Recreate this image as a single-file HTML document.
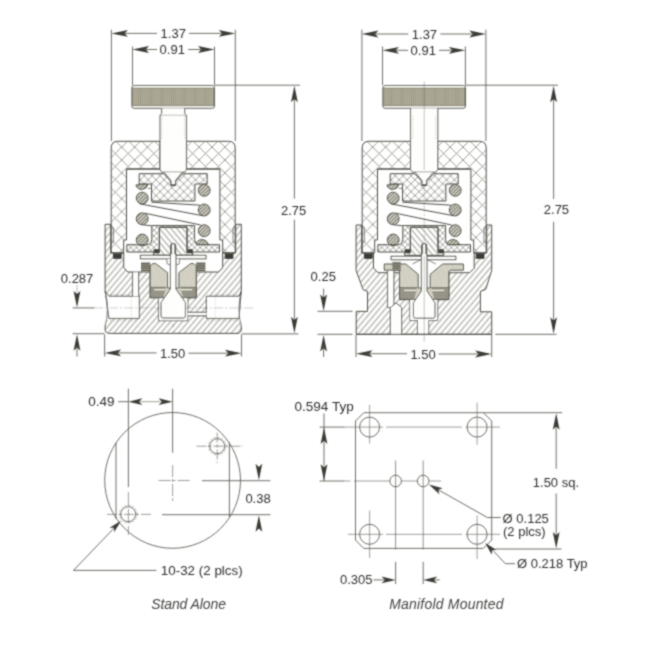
<!DOCTYPE html>
<html lang="en"><head><meta charset="utf-8"><title>Regulator dimensions</title>
<style>html,body{margin:0;padding:0;background:#fff}svg{display:block}text{font-family:"Liberation Sans",sans-serif}</style>
</head><body>
<svg width="647" height="650" viewBox="0 0 647 650">
<defs>
<pattern id="xh" width="12.9" height="12.9" patternUnits="userSpaceOnUse" patternTransform="translate(0.1,5.2)"><path d="M0,0 L12.9,12.9 M12.9,0 L0,12.9" stroke="#93938a" stroke-width="0.9" fill="none"/></pattern>
<pattern id="xm" width="7.9" height="7.9" patternUnits="userSpaceOnUse" patternTransform="translate(2.6,2)"><path d="M0,0 L7.9,7.9 M7.9,0 L0,7.9" stroke="#93938a" stroke-width="0.85" fill="none"/></pattern>
<pattern id="xf" width="5.8" height="5.8" patternUnits="userSpaceOnUse" patternTransform="translate(1,1)"><path d="M0,0 L5.8,5.8 M5.8,0 L0,5.8" stroke="#93938a" stroke-width="0.8" fill="none"/></pattern>
<pattern id="dh" width="4.5" height="10" patternUnits="userSpaceOnUse" patternTransform="translate(1.6,0) rotate(40)"><line x1="1" y1="0" x2="1" y2="10" stroke="#93938a" stroke-width="0.95"/></pattern>
<pattern id="dh2" width="4.4" height="10" patternUnits="userSpaceOnUse" patternTransform="rotate(-40)"><line x1="1" y1="0" x2="1" y2="10" stroke="#93938a" stroke-width="0.95"/></pattern>
<pattern id="ch" width="2.6" height="10" patternUnits="userSpaceOnUse" patternTransform="rotate(45)"><rect width="2.6" height="10" fill="#dcdacd"/><line x1="0.7" y1="0" x2="0.7" y2="10" stroke="#5e5e56" stroke-width="0.95"/></pattern>
<pattern id="dt" width="1.9" height="10" patternUnits="userSpaceOnUse" patternTransform="rotate(-42)"><rect width="1.9" height="10" fill="#e3e1d5"/><line x1="0.5" y1="0" x2="0.5" y2="10" stroke="#b3b1a3" stroke-width="0.7"/></pattern>
<pattern id="kn" width="2.2" height="4" patternUnits="userSpaceOnUse"><rect width="2.2" height="4" fill="#b1ad9a"/><rect width="0.8" height="4" fill="#999582"/></pattern>
<pattern id="sp" width="10" height="1.8" patternUnits="userSpaceOnUse"><rect width="10" height="1.8" fill="#a6a392"/><rect width="10" height="0.9" fill="#4e4e48"/></pattern>
<filter id="soft" x="0" y="0" width="647" height="650" filterUnits="userSpaceOnUse"><feConvolveMatrix order="3" kernelMatrix="1 2 1 2 8 2 1 2 1" divisor="20" edgeMode="duplicate" preserveAlpha="false"/></filter>
</defs>
<rect width="647" height="650" fill="#ffffff"/>
<g filter="url(#soft)">
<g transform="translate(173.2,0)">
<path d="M0,333.4 L-63.8,333.4 Q-68.1,333.4 -68.1,329 L-68.1,224.3 L-62.5,224.3 L-62.5,253 L-59.8,253 L-59.8,258.4 L-52,258.4 L-52,253 L-49.5,253 L-49.5,267.5 L-45.5,272 L-23,272 L-23,297.7 L-14.6,297.7 L-14.6,320.7 L0,320.7 L0,320.7 L14.6,320.7 L14.6,297.7 L23,297.7 L23,272 L45.5,272 L49.5,267.5 L49.5,253 L52,253 L52,258.4 L59.8,258.4 L59.8,253 L62.5,253 L62.5,224.3 L68.1,224.3 L68.1,329 Q68.1,333.4 63.8,333.4 Z" fill="url(#dh)" stroke="#4e4e46" stroke-width="1.0" stroke-linejoin="round" />
<rect x="-14.1" y="298" width="28.2" height="22.3" fill="#fefefc"/>
<rect x="-1" y="321.2" width="2" height="11.6" fill="url(#dh)"/>
<path d="M-69.2,291.3 L-68.1,291.3 L-64.2,296.3 L-33.9,296.3 L-33.9,318.4 L-64.2,318.4 L-66.8,322 L-68.3,326 L-69.2,326 Z" fill="#ffffff"/>
<path d="M-68.1,291.3 L-64.2,296.3 L-33.9,296.3 L-33.9,318.4 L-64.2,318.4 Z" fill="none" stroke="#4e4e46" stroke-width="1.0" stroke-linejoin="round" />
<path d="M-68.1,291.3 Q-65.6,300 -65.8,309 Q-65.8,319 -68.2,326" fill="none" stroke="#4e4e46" stroke-width="0.8" stroke-linejoin="round" />
<line x1="-63.2" y1="294.3" x2="-39.9" y2="294.3" stroke="#4e4e46" stroke-width="0.5" stroke-dasharray="2 1.5" stroke-opacity="0.55"/>
<line x1="-63.2" y1="320.7" x2="-34.9" y2="320.7" stroke="#4e4e46" stroke-width="0.5" stroke-dasharray="2 1.5" stroke-opacity="0.55"/>
<line x1="-42.0" y1="296.3" x2="-42.0" y2="318.4" stroke="#4e4e46" stroke-width="0.5" stroke-dasharray="2 1.5" stroke-opacity="0.4"/>
<path d="M69.2,291.3 L68.1,291.3 L65.8,296.3 L33.2,296.3 L33.2,318.4 L65.8,318.4 L66.8,322 L68.3,326 L69.2,326 Z" fill="#ffffff"/>
<path d="M68.1,291.3 L65.8,296.3 L33.2,296.3 L33.2,318.4 L65.8,318.4 Z" fill="none" stroke="#4e4e46" stroke-width="1.0" stroke-linejoin="round" />
<path d="M68.1,291.3 Q65.6,300 65.8,309 Q65.8,319 68.2,326" fill="none" stroke="#4e4e46" stroke-width="0.8" stroke-linejoin="round" />
<line x1="64.8" y1="294.3" x2="39.2" y2="294.3" stroke="#4e4e46" stroke-width="0.5" stroke-dasharray="2 1.5" stroke-opacity="0.55"/>
<line x1="64.8" y1="320.7" x2="34.2" y2="320.7" stroke="#4e4e46" stroke-width="0.5" stroke-dasharray="2 1.5" stroke-opacity="0.55"/>
<line x1="42.0" y1="296.3" x2="42.0" y2="318.4" stroke="#4e4e46" stroke-width="0.5" stroke-dasharray="2 1.5" stroke-opacity="0.4"/>
<rect x="-40.6" y="272.4" width="6" height="24" fill="#fefefc"/>
<line x1="-40.6" y1="272.0" x2="-40.6" y2="296.3" stroke="#4e4e46" stroke-width="1.0"/>
<line x1="-34.6" y1="272.0" x2="-34.6" y2="296.3" stroke="#4e4e46" stroke-width="1.0"/>
<rect x="14.4" y="312.3" width="19" height="3.5" fill="#fefefc"/>
<line x1="14.6" y1="312.3" x2="33.2" y2="312.3" stroke="#4e4e46" stroke-width="1.0"/>
<line x1="14.6" y1="315.8" x2="33.2" y2="315.8" stroke="#4e4e46" stroke-width="1.0"/>
<line x1="-79.0" y1="307.9" x2="82.0" y2="307.9" stroke="#4e4e46" stroke-width="0.5" stroke-dasharray="9 2 2 2" stroke-opacity="0.55"/>
<rect x="-32.8" y="255.3" width="65.6" height="3.5" rx="0" fill="#fefefc" stroke="#4e4e46" stroke-width="1.0"/>
<path d="M-6.2,258.8 L-6.2,263 Q-6.2,264.4 -4.6,264.4 L4.6,264.4 Q6.2,264.4 6.2,263 L6.2,258.8" fill="#fefefc" stroke="#4e4e46" stroke-width="0.8" stroke-linejoin="round" />
<rect x="-32.2" y="262.3" width="9.2" height="9.2" fill="url(#sp)"/>
<rect x="23" y="262.3" width="9.2" height="9.2" fill="url(#sp)"/>
<path d="M-23,265.7 L-20.2,263.6 L-17.5,263.6 L-5.7,272.7 L-5.7,288 L5.7,288 L5.7,272.7 L17.5,263.6 L20.2,263.6 L23,265.7 L23,297.7 L-23,297.7 Z" fill="url(#dt)" stroke="#4e4e46" stroke-width="1.0" stroke-linejoin="round" />
<path d="M-23,287.3 L-7,287.3 L-10,297.7 L-23,297.7 Z M23,287.3 L7,287.3 L10,297.7 L23,297.7 Z" fill="#6f6d62" fill-opacity="0.6"/>
<path d="M-19,289.6 L-7.8,289.6 M19,289.6 L7.8,289.6" stroke="#eeecdf" stroke-width="1.2"/>
<line x1="-23.0" y1="287.3" x2="-7.0" y2="287.3" stroke="#4e4e46" stroke-width="0.6"/>
<line x1="23.0" y1="287.3" x2="7.0" y2="287.3" stroke="#4e4e46" stroke-width="0.6"/>
</g>
<g transform="translate(173.2,0)">
<path d="M-49.5,252.7 L-62,252.7 L-62,148 Q-62,141.3 -55.3,141.3 L-13.2,141.3 L-13.2,169 L-46.7,169 L-46.7,240 L-49.5,240 Z" fill="url(#xh)" stroke="#4e4e46" stroke-width="1.0" stroke-linejoin="round" />
<path d="M49.5,252.7 L62,252.7 L62,148 Q62,141.3 55.3,141.3 L13.2,141.3 L13.2,169 L46.7,169 L46.7,240 L49.5,240 Z" fill="url(#xh)" stroke="#4e4e46" stroke-width="1.0" stroke-linejoin="round" />
<line x1="-46.7" y1="169.0" x2="46.7" y2="169.0" stroke="#4e4e46" stroke-width="1.0"/>
<path d="M-62,226 L-59.8,227.5 L-59.8,242 L-62,243.5" fill="none" stroke="#4e4e46" stroke-width="0.7" stroke-linejoin="round" />
<path d="M62,226 L59.8,227.5 L59.8,242 L62,243.5" fill="none" stroke="#4e4e46" stroke-width="0.7" stroke-linejoin="round" />
<rect x="-41.3" y="85.5" width="82.6" height="22.8" rx="2.2" fill="#fdfdf8" stroke="#4e4e46" stroke-width="1.0"/>
<rect x="-40.6" y="88.1" width="81.2" height="17.6" rx="0" fill="url(#kn)" stroke="#7e7a68" stroke-width="0.9"/>
<path d="M-11.5,108.3 L-11.5,113.6 L-13.2,115.2 L-13.2,169.5 L-11.6,172.2 L11.6,172.2 L13.2,169.5 L13.2,115.2 L11.5,113.6 L11.5,108.3" fill="#fefefc" stroke="#4e4e46" stroke-width="1.0" stroke-linejoin="round" />
<line x1="-13.2" y1="115.2" x2="13.2" y2="115.2" stroke="#4e4e46" stroke-width="0.6" stroke-opacity="0.6"/>
<line x1="-11.3" y1="116.0" x2="-11.3" y2="140.0" stroke="#4e4e46" stroke-width="0.5" stroke-dasharray="1.5 1.5" stroke-opacity="0.5"/>
<line x1="11.3" y1="116.0" x2="11.3" y2="140.0" stroke="#4e4e46" stroke-width="0.5" stroke-dasharray="1.5 1.5" stroke-opacity="0.5"/>
<path d="M-34,173.7 L-9.5,173.7 L-2.3,181.5 L-2.3,185.6 L2.3,185.6 L2.3,181.5 L9.5,173.7 L34,173.7 L34,184 L21.7,184 L21.7,201 L-21.7,201 L-21.7,184 L-34,184 Z" fill="url(#xm)" stroke="#4e4e46" stroke-width="1.0" stroke-linejoin="round" />
<path d="M-9,172.2 L-2.2,180.5 L-2.2,184.6 L2.2,184.6 L2.2,180.5 L9,172.2" fill="#fefefc" stroke="#4e4e46" stroke-width="1.0" stroke-linejoin="round" />
<line x1="-21.7" y1="202.2" x2="27.0" y2="205.2" stroke="#4e4e46" stroke-width="1.0"/>
<line x1="-33.5" y1="203.8" x2="30.0" y2="215.8" stroke="#4e4e46" stroke-width="1.0"/>
<line x1="-28.5" y1="213.2" x2="27.5" y2="225.0" stroke="#4e4e46" stroke-width="1.0"/>
<line x1="-31.0" y1="224.7" x2="-21.7" y2="225.8" stroke="#4e4e46" stroke-width="1.0"/>
<path d="M-37.3,185 Q-36,189.6 -31,189.4 Q-26.5,189 -25.4,184.6 L-29,184.2 Z" fill="url(#ch)" stroke="#4e4e46" stroke-width="1.0" stroke-linejoin="round" />
<line x1="-25.4" y1="188.4" x2="-21.7" y2="188.4" stroke="#4e4e46" stroke-width="0.7"/>
<circle cx="-31.0" cy="198.1" r="5.9" fill="url(#ch)" stroke="#4e4e46" stroke-width="1.0"/>
<circle cx="-31.0" cy="218.8" r="5.9" fill="url(#ch)" stroke="#4e4e46" stroke-width="1.0"/>
<circle cx="-31.0" cy="240.0" r="5.9" fill="url(#ch)" stroke="#4e4e46" stroke-width="1.0"/>
<circle cx="31.0" cy="190.3" r="5.9" fill="url(#ch)" stroke="#4e4e46" stroke-width="1.0"/>
<circle cx="31.0" cy="210.0" r="5.9" fill="url(#ch)" stroke="#4e4e46" stroke-width="1.0"/>
<circle cx="31.0" cy="230.7" r="5.9" fill="url(#ch)" stroke="#4e4e46" stroke-width="1.0"/>
<path d="M22.8,244.6 Q24,239.6 29,239.6 Q34,240 35.2,244.6 Z" fill="url(#ch)" stroke="#4e4e46" stroke-width="1.0" stroke-linejoin="round" />
<path d="M-21.4,225.6 L21.4,225.6 L21.4,239.5 Q21.6,244 25,244.7 L46.3,244.7 L46.3,252 L13.8,252 L13.8,227.3 L-13.8,227.3 L-13.8,252 L-46.3,252 L-46.3,244.7 L-25,244.7 Q-21.6,244 -21.4,239.5 Z" fill="url(#xf)" stroke="#4e4e46" stroke-width="1.0" stroke-linejoin="round" />
<path d="M-13.8,227.3 L13.8,227.3 L13.8,252.8 L19.6,252.8 L19.6,255.3 L2.5,255.3 L2.5,245 Q2.5,243.6 0,243.6 Q-2.5,243.6 -2.5,245 L-2.5,255.3 L-19.6,255.3 L-19.6,252.8 L-13.8,252.8 Z" fill="url(#dh2)" stroke="#4e4e46" stroke-width="1.0" stroke-linejoin="round" />
<rect x="-19.6" y="249.2" width="5.4" height="3.7" fill="#3f3f3a"/>
<rect x="14.2" y="249.2" width="5.4" height="3.7" fill="#3f3f3a"/>
<rect x="-59.8" y="253.2" width="7.8" height="5.2" fill="#3a3a36"/>
<rect x="52" y="253.2" width="7.8" height="5.2" fill="#3a3a36"/>
</g>
<g transform="translate(173.2,0)">
<path d="M-1.6,244.2 L-1.6,254 L-2.8,255 L-2.8,289.2 L-12.2,302.5 L-12.2,316 Q-12.2,318 -10.2,318 L10.2,318 Q12.2,318 12.2,316 L12.2,302.5 L2.8,289.2 L2.8,255 L1.6,254 L1.6,244.2 Q0,243 -1.6,244.2 Z" fill="#fefefc" stroke="#4e4e46" stroke-width="1.0" stroke-linejoin="round" />
</g>
<g transform="translate(424.2,0)">
<path d="M0.0,334.3 L-68.0,334.3 L-68.0,311.4 L-56.7,311.4 L-56.7,291.3 L-61.0,289.8 L-68.1,270.5 L-68.1,225.0 L-62.5,225.0 L-62.5,253.0 L-59.8,253.0 L-59.8,258.4 L-52.0,258.4 L-52.0,253.0 L-50.7,253.0 L-50.7,268.2 L-46.0,272.7 L-24.6,272.7 L-24.6,299.7 L-14.3,299.7 L-14.3,320.4 L-6.6,320.4 L-6.6,334.3 L4.5,334.3 L4.5,320.4 L13.5,320.4 L13.5,299.7 L24.6,299.7 L24.6,272.7 L45.5,272.7 L50.0,268.2 L50.0,253.0 L52.0,253.0 L52.0,258.4 L59.8,258.4 L59.8,253.0 L62.5,253.0 L62.5,225.0 L67.5,225.0 L67.5,270.5 L61.5,289.4 L56.2,291.4 L56.2,311.8 L67.5,311.8 L67.5,334.3 Z" fill="url(#dh)" stroke="#4e4e46" stroke-width="1.0" stroke-linejoin="round" />
<rect x="-13.8" y="300" width="26.8" height="20" fill="#fefefc"/>
<rect x="-6.1" y="320" width="10.1" height="14.8" fill="#fefefc"/>
<line x1="-6.6" y1="334.3" x2="4.5" y2="334.3" stroke="#4e4e46" stroke-width="1.0"/>
<path d="M-36.6,271 L-30.3,271 L-30.3,304.6 L-28.2,302.9 L-22.6,307.5 L-22.6,334.8 L-33.8,334.8 L-33.8,307.5 L-36.6,307.5 Z" fill="#fefefc"/>
<path d="M-36.6,271 L-36.6,307.5 L-33.8,307.5 L-33.8,334.3 M-30.3,271 L-30.3,304.6 M-33.8,307.5 L-28.2,302.9 L-22.6,307.5 L-22.6,334.3" fill="none" stroke="#4e4e46" stroke-width="1.0" stroke-linejoin="round" />
<line x1="-68.0" y1="334.3" x2="67.5" y2="334.3" stroke="#4e4e46" stroke-width="1.0"/>
<rect x="-33.1" y="256.3" width="64.7" height="3.4" rx="0" fill="#fefefc" stroke="#4e4e46" stroke-width="1.0"/>
<path d="M-39.9,264 L-18.5,264 L-6,274.3 L-6,288 L6,288 L6,274.3 L18.5,264 L39.2,264 L39.2,270.2 L26,270.2 Q24.6,270.4 24.6,273 L24.6,299.4 L-24.6,299.4 L-24.6,270.2 L-39.9,270.2 Z" fill="url(#dt)" stroke="#4e4e46" stroke-width="1.0" stroke-linejoin="round" />
<rect x="-31.8" y="261.8" width="8.4" height="9.1" fill="url(#sp)"/>
<path d="M-24.6,287.5 L-7,287.5 L-10,299.4 L-24.6,299.4 Z M24.6,287.5 L7,287.5 L10,299.4 L24.6,299.4 Z" fill="#6f6d62" fill-opacity="0.6"/>
<path d="M-20,290.3 L-7.8,290.3 M20,290.3 L7.8,290.3" stroke="#eeecdf" stroke-width="1.2"/>
<line x1="-24.6" y1="287.5" x2="-7.0" y2="287.5" stroke="#4e4e46" stroke-width="0.6"/>
<line x1="24.6" y1="287.5" x2="7.0" y2="287.5" stroke="#4e4e46" stroke-width="0.6"/>
<path d="M-11.6,264 L-3.4,259.7 M11.6,264 L3.4,259.7" fill="none" stroke="#4e4e46" stroke-width="0.7" stroke-linejoin="round" />
</g>
<g transform="translate(424.2,0)">
<path d="M-49.5,252.7 L-62,252.7 L-62,148 Q-62,141.3 -55.3,141.3 L-13.2,141.3 L-13.2,169 L-46.7,169 L-46.7,240 L-49.5,240 Z" fill="url(#xh)" stroke="#4e4e46" stroke-width="1.0" stroke-linejoin="round" />
<path d="M49.5,252.7 L62,252.7 L62,148 Q62,141.3 55.3,141.3 L13.2,141.3 L13.2,169 L46.7,169 L46.7,240 L49.5,240 Z" fill="url(#xh)" stroke="#4e4e46" stroke-width="1.0" stroke-linejoin="round" />
<line x1="-46.7" y1="169.0" x2="46.7" y2="169.0" stroke="#4e4e46" stroke-width="1.0"/>
<path d="M-62,226 L-59.8,227.5 L-59.8,242 L-62,243.5" fill="none" stroke="#4e4e46" stroke-width="0.7" stroke-linejoin="round" />
<path d="M62,226 L59.8,227.5 L59.8,242 L62,243.5" fill="none" stroke="#4e4e46" stroke-width="0.7" stroke-linejoin="round" />
<rect x="-41.3" y="85.5" width="82.6" height="22.8" rx="2.2" fill="#fdfdf8" stroke="#4e4e46" stroke-width="1.0"/>
<rect x="-40.6" y="88.1" width="81.2" height="17.6" rx="0" fill="url(#kn)" stroke="#7e7a68" stroke-width="0.9"/>
<path d="M-13.6,108.3 L-13.6,169.5 L-11.6,172.2 L11.6,172.2 L13.6,169.5 L13.6,108.3" fill="#fefefc" stroke="#4e4e46" stroke-width="1.0" stroke-linejoin="round" />
<line x1="-11.3" y1="116.0" x2="-11.3" y2="140.0" stroke="#4e4e46" stroke-width="0.5" stroke-dasharray="1.5 1.5" stroke-opacity="0.5"/>
<line x1="11.3" y1="116.0" x2="11.3" y2="140.0" stroke="#4e4e46" stroke-width="0.5" stroke-dasharray="1.5 1.5" stroke-opacity="0.5"/>
<path d="M-34,173.7 L-9.5,173.7 L-2.3,181.5 L-2.3,185.6 L2.3,185.6 L2.3,181.5 L9.5,173.7 L34,173.7 L34,184 L21.7,184 L21.7,201 L-21.7,201 L-21.7,184 L-34,184 Z" fill="url(#xm)" stroke="#4e4e46" stroke-width="1.0" stroke-linejoin="round" />
<path d="M-9,172.2 L-2.2,180.5 L-2.2,184.6 L2.2,184.6 L2.2,180.5 L9,172.2" fill="#fefefc" stroke="#4e4e46" stroke-width="1.0" stroke-linejoin="round" />
<line x1="-21.7" y1="202.2" x2="27.0" y2="205.2" stroke="#4e4e46" stroke-width="1.0"/>
<line x1="-33.5" y1="203.8" x2="30.0" y2="215.8" stroke="#4e4e46" stroke-width="1.0"/>
<line x1="-28.5" y1="213.2" x2="27.5" y2="225.0" stroke="#4e4e46" stroke-width="1.0"/>
<line x1="-31.0" y1="224.7" x2="-21.7" y2="225.8" stroke="#4e4e46" stroke-width="1.0"/>
<path d="M-37.3,185 Q-36,189.6 -31,189.4 Q-26.5,189 -25.4,184.6 L-29,184.2 Z" fill="url(#ch)" stroke="#4e4e46" stroke-width="1.0" stroke-linejoin="round" />
<line x1="-25.4" y1="188.4" x2="-21.7" y2="188.4" stroke="#4e4e46" stroke-width="0.7"/>
<circle cx="-31.0" cy="198.1" r="5.9" fill="url(#ch)" stroke="#4e4e46" stroke-width="1.0"/>
<circle cx="-31.0" cy="218.8" r="5.9" fill="url(#ch)" stroke="#4e4e46" stroke-width="1.0"/>
<circle cx="-31.0" cy="240.0" r="5.9" fill="url(#ch)" stroke="#4e4e46" stroke-width="1.0"/>
<circle cx="31.0" cy="190.3" r="5.9" fill="url(#ch)" stroke="#4e4e46" stroke-width="1.0"/>
<circle cx="31.0" cy="210.0" r="5.9" fill="url(#ch)" stroke="#4e4e46" stroke-width="1.0"/>
<circle cx="31.0" cy="230.7" r="5.9" fill="url(#ch)" stroke="#4e4e46" stroke-width="1.0"/>
<path d="M22.8,244.6 Q24,239.6 29,239.6 Q34,240 35.2,244.6 Z" fill="url(#ch)" stroke="#4e4e46" stroke-width="1.0" stroke-linejoin="round" />
<path d="M-21.4,225.6 L21.4,225.6 L21.4,239.5 Q21.6,244 25,244.7 L46.3,244.7 L46.3,252 L13.8,252 L13.8,227.3 L-13.8,227.3 L-13.8,252 L-46.3,252 L-46.3,244.7 L-25,244.7 Q-21.6,244 -21.4,239.5 Z" fill="url(#xf)" stroke="#4e4e46" stroke-width="1.0" stroke-linejoin="round" />
<path d="M-13.8,227.3 L13.8,227.3 L13.8,252.8 L19.6,252.8 L19.6,255.3 L2.5,255.3 L2.5,245 Q2.5,243.6 0,243.6 Q-2.5,243.6 -2.5,245 L-2.5,255.3 L-19.6,255.3 L-19.6,252.8 L-13.8,252.8 Z" fill="url(#dh2)" stroke="#4e4e46" stroke-width="1.0" stroke-linejoin="round" />
<rect x="-19.6" y="249.2" width="5.4" height="3.7" fill="#3f3f3a"/>
<rect x="14.2" y="249.2" width="5.4" height="3.7" fill="#3f3f3a"/>
<rect x="-59.8" y="253.2" width="7.8" height="5.2" fill="#3a3a36"/>
<rect x="52" y="253.2" width="7.8" height="5.2" fill="#3a3a36"/>
</g>
<g transform="translate(424.2,0)">
<path d="M-1.6,244.2 L-1.6,254 L-2.8,255 L-2.8,291 L-10.8,302.9 L-10.8,316.2 Q-10.8,318.2 -8.8,318.2 L8.8,318.2 Q10.8,318.2 10.8,316.2 L10.8,302.9 L2.8,291 L2.8,255 L1.6,254 L1.6,244.2 Q0,243 -1.6,244.2 Z" fill="#fefefc" stroke="#4e4e46" stroke-width="1.0" stroke-linejoin="round" />
</g>
<line x1="424.2" y1="81.7" x2="424.2" y2="170.0" stroke="#4e4e46" stroke-width="0.5" stroke-opacity="0.7"/>
<line x1="424.2" y1="186.0" x2="424.2" y2="244.0" stroke="#4e4e46" stroke-width="0.5" stroke-dasharray="10 2 2 2" stroke-opacity="0.6"/>
<line x1="424.2" y1="256.0" x2="424.2" y2="341.5" stroke="#4e4e46" stroke-width="0.5" stroke-opacity="0.7"/>
<line x1="111.4" y1="29.7" x2="111.4" y2="141.0" stroke="#5e5e56" stroke-width="0.9"/>
<line x1="235.3" y1="29.7" x2="235.3" y2="141.0" stroke="#5e5e56" stroke-width="0.9"/>
<line x1="132.5" y1="46.5" x2="132.5" y2="85.0" stroke="#5e5e56" stroke-width="0.9"/>
<line x1="214.5" y1="46.5" x2="214.5" y2="85.0" stroke="#5e5e56" stroke-width="0.9"/>
<polygon points="0,0 -16.5,-3.4 -13.3,0 -16.5,3.4" fill="#3a3a36" transform="translate(111.4,33.4) rotate(180)"/>
<polygon points="0,0 -16.5,-3.4 -13.3,0 -16.5,3.4" fill="#3a3a36" transform="translate(235.3,33.4) rotate(0)"/>
<line x1="123.4" y1="33.4" x2="157.1" y2="33.4" stroke="#5e5e56" stroke-width="0.9"/>
<line x1="189.1" y1="33.4" x2="223.3" y2="33.4" stroke="#5e5e56" stroke-width="0.9"/>
<text x="160.6" y="38.0" font-size="13" text-anchor="start" fill="#2e2e2c">1.37</text>
<polygon points="0,0 -16.5,-3.4 -13.3,0 -16.5,3.4" fill="#3a3a36" transform="translate(132.5,49.5) rotate(180)"/>
<polygon points="0,0 -16.5,-3.4 -13.3,0 -16.5,3.4" fill="#3a3a36" transform="translate(214.5,49.5) rotate(0)"/>
<line x1="144.5" y1="49.5" x2="157.1" y2="49.5" stroke="#5e5e56" stroke-width="0.9"/>
<line x1="188.1" y1="49.5" x2="202.5" y2="49.5" stroke="#5e5e56" stroke-width="0.9"/>
<text x="159.6" y="54.1" font-size="13" text-anchor="start" fill="#2e2e2c">0.91</text>
<line x1="361.9" y1="29.7" x2="361.9" y2="141.0" stroke="#5e5e56" stroke-width="0.9"/>
<line x1="485.9" y1="29.7" x2="485.9" y2="141.0" stroke="#5e5e56" stroke-width="0.9"/>
<line x1="382.5" y1="46.5" x2="382.5" y2="85.0" stroke="#5e5e56" stroke-width="0.9"/>
<line x1="465.4" y1="46.5" x2="465.4" y2="85.0" stroke="#5e5e56" stroke-width="0.9"/>
<polygon points="0,0 -16.5,-3.4 -13.3,0 -16.5,3.4" fill="#3a3a36" transform="translate(361.9,34.0) rotate(180)"/>
<polygon points="0,0 -16.5,-3.4 -13.3,0 -16.5,3.4" fill="#3a3a36" transform="translate(485.9,34.0) rotate(0)"/>
<line x1="373.9" y1="34.0" x2="408.3" y2="34.0" stroke="#5e5e56" stroke-width="0.9"/>
<line x1="440.3" y1="34.0" x2="473.9" y2="34.0" stroke="#5e5e56" stroke-width="0.9"/>
<text x="411.8" y="38.6" font-size="13" text-anchor="start" fill="#2e2e2c">1.37</text>
<polygon points="0,0 -16.5,-3.4 -13.3,0 -16.5,3.4" fill="#3a3a36" transform="translate(382.5,50.3) rotate(180)"/>
<polygon points="0,0 -16.5,-3.4 -13.3,0 -16.5,3.4" fill="#3a3a36" transform="translate(465.4,50.3) rotate(0)"/>
<line x1="394.5" y1="50.3" x2="408.1" y2="50.3" stroke="#5e5e56" stroke-width="0.9"/>
<line x1="439.1" y1="50.3" x2="453.4" y2="50.3" stroke="#5e5e56" stroke-width="0.9"/>
<text x="410.6" y="54.9" font-size="13" text-anchor="start" fill="#2e2e2c">0.91</text>
<line x1="214.6" y1="85.2" x2="300.0" y2="85.2" stroke="#5e5e56" stroke-width="0.9"/>
<line x1="241.8" y1="333.9" x2="298.5" y2="333.9" stroke="#5e5e56" stroke-width="0.9"/>
<line x1="294.4" y1="97.0" x2="294.4" y2="198.6" stroke="#5e5e56" stroke-width="0.9"/>
<line x1="294.4" y1="219.8" x2="294.4" y2="322.0" stroke="#5e5e56" stroke-width="0.9"/>
<polygon points="0,0 -16.5,-3.4 -13.3,0 -16.5,3.4" fill="#3a3a36" transform="translate(294.4,85.8) rotate(-90)"/>
<polygon points="0,0 -16.5,-3.4 -13.3,0 -16.5,3.4" fill="#3a3a36" transform="translate(294.4,333.3) rotate(90)"/>
<text x="281.0" y="214.9" font-size="13" text-anchor="start" fill="#2e2e2c">2.75</text>
<line x1="465.4" y1="85.2" x2="558.0" y2="85.2" stroke="#5e5e56" stroke-width="0.9"/>
<line x1="495.4" y1="334.3" x2="556.5" y2="334.3" stroke="#5e5e56" stroke-width="0.9"/>
<line x1="553.6" y1="97.0" x2="553.6" y2="199.0" stroke="#5e5e56" stroke-width="0.9"/>
<line x1="553.6" y1="221.8" x2="553.6" y2="322.0" stroke="#5e5e56" stroke-width="0.9"/>
<polygon points="0,0 -16.5,-3.4 -13.3,0 -16.5,3.4" fill="#3a3a36" transform="translate(553.6,85.8) rotate(-90)"/>
<polygon points="0,0 -16.5,-3.4 -13.3,0 -16.5,3.4" fill="#3a3a36" transform="translate(553.6,333.7) rotate(90)"/>
<text x="543.8" y="214.2" font-size="13" text-anchor="start" fill="#2e2e2c">2.75</text>
<line x1="104.6" y1="334.5" x2="104.6" y2="356.5" stroke="#5e5e56" stroke-width="0.9"/>
<line x1="241.5" y1="334.5" x2="241.5" y2="356.5" stroke="#5e5e56" stroke-width="0.9"/>
<polygon points="0,0 -16.5,-3.4 -13.3,0 -16.5,3.4" fill="#3a3a36" transform="translate(104.6,352.9) rotate(180)"/>
<polygon points="0,0 -16.5,-3.4 -13.3,0 -16.5,3.4" fill="#3a3a36" transform="translate(241.5,353.2) rotate(0)"/>
<line x1="116.0" y1="352.9" x2="156.5" y2="352.9" stroke="#5e5e56" stroke-width="0.9"/>
<line x1="188.5" y1="353.2" x2="230.0" y2="353.2" stroke="#5e5e56" stroke-width="0.9"/>
<text x="160.0" y="357.7" font-size="13" text-anchor="start" fill="#2e2e2c">1.50</text>
<line x1="356.0" y1="335.0" x2="356.0" y2="357.0" stroke="#5e5e56" stroke-width="0.9"/>
<line x1="491.7" y1="335.0" x2="491.7" y2="357.0" stroke="#5e5e56" stroke-width="0.9"/>
<polygon points="0,0 -16.5,-3.4 -13.3,0 -16.5,3.4" fill="#3a3a36" transform="translate(356.0,353.7) rotate(180)"/>
<polygon points="0,0 -16.5,-3.4 -13.3,0 -16.5,3.4" fill="#3a3a36" transform="translate(491.7,354.0) rotate(0)"/>
<line x1="367.0" y1="353.7" x2="407.0" y2="353.7" stroke="#5e5e56" stroke-width="0.9"/>
<line x1="438.5" y1="354.0" x2="480.0" y2="354.0" stroke="#5e5e56" stroke-width="0.9"/>
<text x="410.4" y="358.6" font-size="13" text-anchor="start" fill="#2e2e2c">1.50</text>
<text x="60.8" y="283.4" font-size="13" text-anchor="start" fill="#2e2e2c">0.287</text>
<line x1="77.0" y1="285.5" x2="77.0" y2="295.0" stroke="#5e5e56" stroke-width="0.8" stroke-dasharray="1.2 1.2"/>
<polygon points="0,0 -16.5,-3.4 -13.3,0 -16.5,3.4" fill="#3a3a36" transform="translate(77.0,307.4) rotate(90)"/>
<line x1="72.6" y1="307.9" x2="94.3" y2="307.9" stroke="#5e5e56" stroke-width="0.9"/>
<line x1="72.6" y1="333.7" x2="104.5" y2="333.7" stroke="#5e5e56" stroke-width="0.9"/>
<polygon points="0,0 -16.5,-3.4 -13.3,0 -16.5,3.4" fill="#3a3a36" transform="translate(77.0,334.3) rotate(-90)"/>
<line x1="77.0" y1="346.0" x2="77.0" y2="356.5" stroke="#5e5e56" stroke-width="0.9"/>
<text x="310.6" y="281.1" font-size="13" text-anchor="start" fill="#2e2e2c">0.25</text>
<line x1="323.6" y1="288.7" x2="323.6" y2="298.0" stroke="#5e5e56" stroke-width="0.9"/>
<polygon points="0,0 -16.5,-3.4 -13.3,0 -16.5,3.4" fill="#3a3a36" transform="translate(323.6,310.9) rotate(90)"/>
<line x1="317.5" y1="311.3" x2="352.6" y2="311.3" stroke="#5e5e56" stroke-width="0.9"/>
<line x1="317.5" y1="334.3" x2="352.6" y2="334.3" stroke="#5e5e56" stroke-width="0.9"/>
<polygon points="0,0 -16.5,-3.4 -13.3,0 -16.5,3.4" fill="#3a3a36" transform="translate(323.6,334.9) rotate(-90)"/>
<line x1="323.6" y1="346.0" x2="323.6" y2="357.0" stroke="#5e5e56" stroke-width="0.9"/>
<circle cx="172.6" cy="480.4" r="67.9" fill="none" stroke="#5e5e56" stroke-width="0.9"/>
<line x1="128.4" y1="388.7" x2="128.4" y2="487.0" stroke="#5e5e56" stroke-width="0.9"/>
<line x1="128.4" y1="492.0" x2="128.4" y2="535.0" stroke="#5e5e56" stroke-width="0.6" stroke-dasharray="14 3"/>
<line x1="172.6" y1="388.7" x2="172.6" y2="452.7" stroke="#5e5e56" stroke-width="0.9"/>
<line x1="172.6" y1="465.0" x2="172.6" y2="501.7" stroke="#5e5e56" stroke-width="0.6" stroke-dasharray="12 2 3 2"/>
<line x1="158.7" y1="480.5" x2="190.0" y2="480.5" stroke="#5e5e56" stroke-width="0.6" stroke-dasharray="12 2 3 2"/>
<line x1="116.0" y1="442.5" x2="116.0" y2="519.0" stroke="#5e5e56" stroke-width="0.9"/>
<line x1="229.4" y1="442.2" x2="229.4" y2="516.9" stroke="#5e5e56" stroke-width="0.9"/>
<circle cx="128.2" cy="514.2" r="7.5" fill="none" stroke="#5e5e56" stroke-width="0.9"/>
<circle cx="217.2" cy="446.2" r="7.5" fill="none" stroke="#5e5e56" stroke-width="0.9"/>
<circle cx="128.2" cy="514.2" r="8.9" fill="none" stroke="#6a6a62" stroke-width="0.6" stroke-dasharray="2.2 1.6" stroke-opacity="0.7"/>
<circle cx="217.2" cy="446.2" r="8.9" fill="none" stroke="#6a6a62" stroke-width="0.6" stroke-dasharray="2.2 1.6" stroke-opacity="0.7"/>
<line x1="107.0" y1="514.4" x2="152.0" y2="514.4" stroke="#5e5e56" stroke-width="0.6" stroke-dasharray="10 2 3 2"/>
<line x1="196.5" y1="446.2" x2="243.0" y2="446.2" stroke="#5e5e56" stroke-width="0.6" stroke-dasharray="10 2 3 2"/>
<line x1="217.2" y1="432.5" x2="217.2" y2="462.8" stroke="#5e5e56" stroke-width="0.6" stroke-dasharray="10 2 3 2"/>
<text x="88.2" y="406.4" font-size="13.5" text-anchor="start" fill="#2e2e2c">0.49</text>
<line x1="118.2" y1="401.7" x2="128.4" y2="401.7" stroke="#5e5e56" stroke-width="0.9"/>
<polygon points="0,0 -14,-3.4 -10.8,0 -14,3.4" fill="#3a3a36" transform="translate(128.4,401.7) rotate(180)"/>
<polygon points="0,0 -14,-3.4 -10.8,0 -14,3.4" fill="#3a3a36" transform="translate(172.6,401.7) rotate(0)"/>
<line x1="140.0" y1="401.7" x2="161.0" y2="401.7" stroke="#5e5e56" stroke-width="0.6"/>
<line x1="202.0" y1="480.7" x2="270.4" y2="480.7" stroke="#5e5e56" stroke-width="0.9"/>
<line x1="162.0" y1="514.7" x2="270.4" y2="514.7" stroke="#5e5e56" stroke-width="0.9"/>
<polygon points="0,0 -16.5,-3.4 -13.3,0 -16.5,3.4" fill="#3a3a36" transform="translate(258.9,480.2) rotate(90)"/>
<polygon points="0,0 -16.5,-3.4 -13.3,0 -16.5,3.4" fill="#3a3a36" transform="translate(258.9,515.2) rotate(-90)"/>
<text x="245.4" y="502.9" font-size="13" text-anchor="start" fill="#2e2e2c">0.38</text>
<path d="M156.4,570.4 L73.5,570.4 L116,526" fill="none" stroke="#5e5e56" stroke-width="0.9" stroke-linejoin="round" />
<polygon points="0,0 -13,-3.2 -9.8,0 -13,3.2" fill="#3a3a36" transform="translate(121.0,520.8) rotate(-45.5)"/>
<text x="160.8" y="575.0" font-size="13.4" text-anchor="start" fill="#2e2e2c">10-32 (2 plcs)</text>
<text x="151.2" y="609.0" font-size="14" text-anchor="start" fill="#444442" font-style="italic" letter-spacing="-0.1">Stand Alone</text>
<path d="M363.8,412.7 L483.4,412.7 L491.7,421.0 L491.7,540.1 L483.4,548.4 L363.8,548.4 L355.5,540.1 L355.5,421.0 Z" fill="none" stroke="#5e5e56" stroke-width="0.9" stroke-linejoin="round" />
<circle cx="369.6" cy="427.1" r="10" fill="none" stroke="#5e5e56" stroke-width="0.9"/>
<circle cx="369.6" cy="534.3" r="10" fill="none" stroke="#5e5e56" stroke-width="0.9"/>
<circle cx="477.1" cy="427.1" r="10" fill="none" stroke="#5e5e56" stroke-width="0.9"/>
<circle cx="477.1" cy="534.3" r="10" fill="none" stroke="#5e5e56" stroke-width="0.9"/>
<circle cx="395.6" cy="481.0" r="5.8" fill="none" stroke="#5e5e56" stroke-width="0.9"/>
<circle cx="423.2" cy="481.0" r="5.8" fill="none" stroke="#5e5e56" stroke-width="0.9"/>
<line x1="344.0" y1="427.1" x2="383.0" y2="427.1" stroke="#5e5e56" stroke-width="0.6"/>
<line x1="386.0" y1="427.1" x2="462.0" y2="427.1" stroke="#5e5e56" stroke-width="0.6"/>
<line x1="465.6" y1="427.1" x2="500.0" y2="427.1" stroke="#5e5e56" stroke-width="0.6"/>
<line x1="348.0" y1="534.3" x2="383.0" y2="534.3" stroke="#5e5e56" stroke-width="0.6"/>
<line x1="386.0" y1="534.3" x2="462.0" y2="534.3" stroke="#5e5e56" stroke-width="0.6"/>
<line x1="465.6" y1="534.3" x2="500.0" y2="534.3" stroke="#5e5e56" stroke-width="0.6"/>
<line x1="369.6" y1="404.8" x2="369.6" y2="443.5" stroke="#5e5e56" stroke-width="0.6"/>
<line x1="369.6" y1="510.5" x2="369.6" y2="558.0" stroke="#5e5e56" stroke-width="0.6"/>
<line x1="477.1" y1="402.6" x2="477.1" y2="444.7" stroke="#5e5e56" stroke-width="0.6"/>
<line x1="477.1" y1="515.6" x2="477.1" y2="559.0" stroke="#5e5e56" stroke-width="0.6"/>
<line x1="395.6" y1="460.5" x2="395.6" y2="549.5" stroke="#5e5e56" stroke-width="0.7"/>
<line x1="395.6" y1="561.8" x2="395.6" y2="584.0" stroke="#5e5e56" stroke-width="0.9"/>
<line x1="423.2" y1="460.5" x2="423.2" y2="549.5" stroke="#5e5e56" stroke-width="0.7"/>
<line x1="423.2" y1="561.8" x2="423.2" y2="584.0" stroke="#5e5e56" stroke-width="0.9"/>
<line x1="344.3" y1="481.0" x2="350.5" y2="481.0" stroke="#5e5e56" stroke-width="0.6"/>
<line x1="354.0" y1="481.0" x2="389.5" y2="481.0" stroke="#5e5e56" stroke-width="0.6"/>
<line x1="401.6" y1="481.0" x2="417.2" y2="481.0" stroke="#5e5e56" stroke-width="0.6"/>
<line x1="429.2" y1="481.0" x2="441.0" y2="481.0" stroke="#5e5e56" stroke-width="0.6"/>
<text x="294.6" y="411.1" font-size="13.5" text-anchor="start" fill="#2e2e2c">0.594 Typ</text>
<line x1="319.6" y1="427.1" x2="344.3" y2="427.1" stroke="#5e5e56" stroke-width="0.9"/>
<line x1="319.6" y1="481.0" x2="344.3" y2="481.0" stroke="#5e5e56" stroke-width="0.9"/>
<line x1="324.0" y1="413.5" x2="324.0" y2="481.0" stroke="#5e5e56" stroke-width="0.9"/>
<polygon points="0,0 -16.5,-3.4 -13.3,0 -16.5,3.4" fill="#3a3a36" transform="translate(324.0,427.4) rotate(-90)"/>
<polygon points="0,0 -16.5,-3.4 -13.3,0 -16.5,3.4" fill="#3a3a36" transform="translate(324.0,480.7) rotate(90)"/>
<line x1="483.4" y1="412.7" x2="562.2" y2="412.7" stroke="#5e5e56" stroke-width="0.9"/>
<line x1="495.6" y1="549.0" x2="561.5" y2="549.0" stroke="#5e5e56" stroke-width="0.9"/>
<line x1="556.2" y1="424.0" x2="556.2" y2="468.8" stroke="#5e5e56" stroke-width="0.9"/>
<line x1="556.2" y1="493.5" x2="556.2" y2="538.0" stroke="#5e5e56" stroke-width="0.9"/>
<polygon points="0,0 -16.5,-3.4 -13.3,0 -16.5,3.4" fill="#3a3a36" transform="translate(556.2,413.2) rotate(-90)"/>
<polygon points="0,0 -16.5,-3.4 -13.3,0 -16.5,3.4" fill="#3a3a36" transform="translate(556.2,548.6) rotate(90)"/>
<text x="532.8" y="486.5" font-size="13" text-anchor="start" fill="#2e2e2c">1.50 sq.</text>
<path d="M500.7,517.5 L487.3,517.5 L438,489.6" fill="none" stroke="#5e5e56" stroke-width="0.9" stroke-linejoin="round" />
<polygon points="0,0 -14,-3.4 -10.8,0 -14,3.4" fill="#3a3a36" transform="translate(428.9,484.4) rotate(209.5)"/>
<text x="502.6" y="523.4" font-size="13" text-anchor="start" fill="#2e2e2c">Ø 0.125</text>
<text x="503.0" y="536.2" font-size="13" text-anchor="start" fill="#2e2e2c">(2 plcs)</text>
<path d="M515,563.7 L505.4,563.7 L492,549.5" fill="none" stroke="#5e5e56" stroke-width="0.9" stroke-linejoin="round" />
<polygon points="0,0 -13,-3.4 -9.8,0 -13,3.4" fill="#3a3a36" transform="translate(485.2,543.0) rotate(226)"/>
<text x="517.0" y="568.0" font-size="13" text-anchor="start" fill="#2e2e2c">Ø 0.218 Typ</text>
<text x="340.0" y="583.7" font-size="13" text-anchor="start" fill="#2e2e2c">0.305</text>
<line x1="373.5" y1="579.9" x2="384.0" y2="579.9" stroke="#5e5e56" stroke-width="0.9"/>
<polygon points="0,0 -14,-3.4 -10.8,0 -14,3.4" fill="#3a3a36" transform="translate(395.6,579.9) rotate(0)"/>
<polygon points="0,0 -14,-3.4 -10.8,0 -14,3.4" fill="#3a3a36" transform="translate(423.2,579.9) rotate(180)"/>
<line x1="434.0" y1="579.9" x2="439.7" y2="579.9" stroke="#5e5e56" stroke-width="0.9"/>
<text x="389.2" y="608.9" font-size="14" text-anchor="start" fill="#444442" font-style="italic" letter-spacing="0.2">Manifold Mounted</text>
</g>
</svg></body></html>
